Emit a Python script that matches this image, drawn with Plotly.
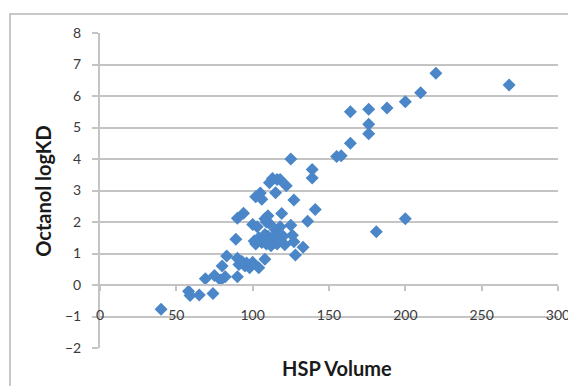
import plotly.graph_objects as go

hsp_volume = [40, 58, 59, 65, 74, 69, 75, 79, 82, 90, 80, 83, 89, 90, 91, 93, 95, 96, 98, 100,
              104, 108, 90, 94, 100, 103, 101, 102, 104, 106, 107, 108, 109, 110, 111, 112, 113,
              114, 115, 116, 118, 120, 121, 126, 127, 108, 109, 111, 110, 115, 118, 125, 119,
              102, 105, 106, 115, 111, 113, 116, 118, 122, 125, 127, 128, 133, 136, 139, 139,
              141, 155, 158, 164, 164, 176, 176, 176, 188, 200, 210, 220, 268, 181, 200]
octanol_logkd = [-0.77, -0.2, -0.33, -0.32, -0.27, 0.2, 0.3, 0.16, 0.26, 0.26, 0.6, 0.92, 1.45,
                 0.85, 0.65, 0.75, 0.6, 0.7, 0.55, 0.72, 0.55, 0.82, 2.12, 2.28, 1.92, 1.85, 1.4,
                 1.3, 1.5, 1.35, 1.45, 1.6, 1.3, 1.55, 1.4, 1.25, 1.5, 1.35, 1.6, 1.3, 1.45, 1.55,
                 1.28, 1.58, 1.37, 2.1, 2.0, 1.95, 2.2, 1.75, 1.85, 1.9, 2.27, 2.8, 2.92, 2.72,
                 2.93, 3.25, 3.38, 3.35, 3.35, 3.15, 4.0, 2.7, 0.95, 1.2, 2.02, 3.67, 3.4, 2.4,
                 4.08, 4.1, 4.5, 5.5, 5.58, 5.1, 4.8, 5.62, 5.82, 6.1, 6.72, 6.35, 1.69, 2.1]

x_ticks = [0, 50, 100, 150, 200, 250, 300]
y_ticks = [-2, -1, 0, 1, 2, 3, 4, 5, 6, 7, 8]

FONT = "Lato"
GRID = "#c4c4c4"

fig = go.Figure()
fig.add_trace(go.Scatter(
    x=hsp_volume, y=octanol_logkd, mode="markers",
    marker=dict(symbol="diamond", size=10, color="#4a86c8"),
    showlegend=False,
))
# invisible trace to activate label axis
fig.add_trace(go.Scatter(x=[x_ticks[0], x_ticks[-1]], y=[y_ticks[0], y_ticks[0]],
                         mode="markers", marker=dict(opacity=0), xaxis="x2",
                         showlegend=False, hoverinfo="skip"))

fig.update_layout(
    width=568, height=378,
    margin=dict(l=92, r=18, t=25, b=38, autoexpand=False),
    paper_bgcolor="white", plot_bgcolor="white",
    font=dict(family=FONT, size=14, color="#3a3a3a"),
    xaxis=dict(range=[0, 300], tickvals=x_ticks, showticklabels=False, automargin=False,
               showgrid=False, zeroline=False, showline=True, linecolor=GRID, linewidth=2,
               ticks="outside", ticklen=5, tickcolor=GRID, tickwidth=2,
               anchor="free", position=0.2),
    xaxis2=dict(range=[0, 300], tickvals=x_ticks, overlaying="x", side="bottom", automargin=False,
                showgrid=False, zeroline=False, showline=False, ticks="",
                anchor="free", position=0.135, tickfont=dict(size=14, color="#3a3a3a")),
    yaxis=dict(range=[-2, 8], tickvals=y_ticks, showgrid=True, gridcolor=GRID, gridwidth=2,
               zeroline=False, showline=True, linecolor=GRID, linewidth=2, automargin=False,
               ticks="outside", ticklen=6, tickcolor=GRID, tickwidth=2,
               ticklabelstandoff=8, tickfont=dict(size=14, color="#3a3a3a")),
    shapes=[dict(type="rect", xref="paper", yref="paper",
                 x0=-0.1965, x1=1.2, y0=-0.3, y1=1.0603,
                 line=dict(color="#b5b5b5", width=1.5), fillcolor="rgba(0,0,0,0)",
                 layer="above")],
    annotations=[
        dict(text="<b>HSP Volume</b>", xref="paper", yref="paper", x=0.517, y=-0.065,
             xanchor="center", yanchor="middle", showarrow=False,
             font=dict(family=FONT, size=20, color="#1a1a1a")),
        dict(text="<b>Octanol logKD</b>", xref="paper", yref="paper", x=-0.126, y=0.5,
             textangle=-90, xanchor="center", yanchor="middle", showarrow=False,
             font=dict(family=FONT, size=20, color="#1a1a1a")),
    ],
)

fig.write_html("out.html")
